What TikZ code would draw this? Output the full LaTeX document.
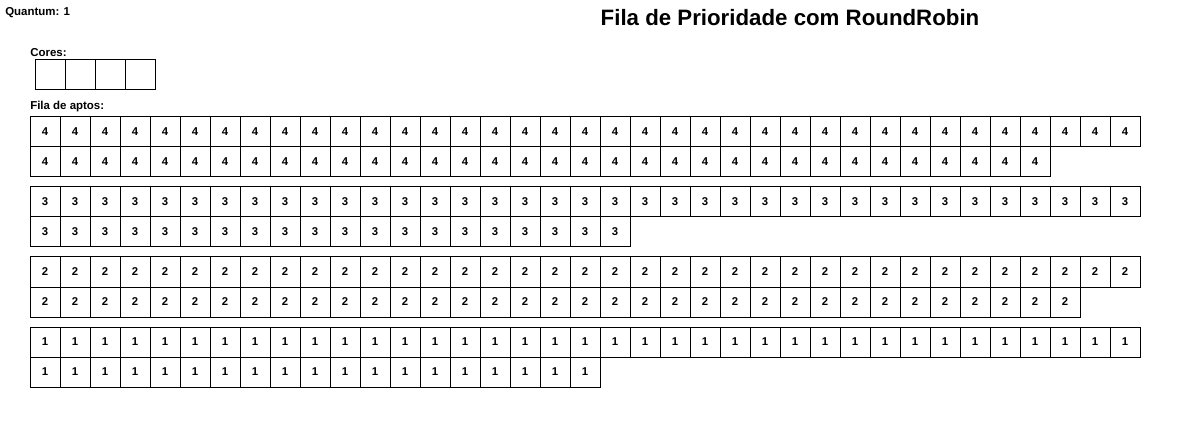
\documentclass[tikz,border=0pt]{standalone}
\usepackage{fontspec}
\setmainfont{Liberation Sans}
\begin{document}
\begin{tikzpicture}[x=0.75pt,y=-0.75pt,
 cell/.style={draw,line width=0.75pt,minimum width=22.5pt,minimum height=22.5pt,inner sep=0pt,outer sep=0pt,font=\fontsize{8.5pt}{9pt}\selectfont\bfseries},
 lbl/.style={anchor=base west,inner sep=0pt,font=\fontsize{8.6pt}{10pt}\selectfont\bfseries},
 titlestyle/.style={anchor=base,inner sep=0pt,font=\fontsize{16.7pt}{20pt}\selectfont\bfseries}]
\useasboundingbox (0,0) rectangle (1200,442);
\node[lbl] (quantum) at (5,16) {Quantum: 1};
\node[titlestyle] (title) at (790,26) {Fila de Prioridade com RoundRobin};
\node[lbl] (cores) at (30,57) {Cores:};
\foreach \i in {1,...,4} \node[cell] (core\i) at ({20+30*\i},75) {};
\node[lbl] (fila) at (30,110) {Fila de aptos:};
\foreach \p/\yy/\n in {4/117/34, 3/187/20, 2/257/35, 1/327/19} {
 \foreach \i in {1,...,37} \node[cell] (q\p a\i) at ({15+30*\i},{\yy+15}) {\p};
 \foreach \i in {1,...,\n} \node[cell] (q\p b\i) at ({15+30*\i},{\yy+45}) {\p};
}
\end{tikzpicture}
\end{document}
